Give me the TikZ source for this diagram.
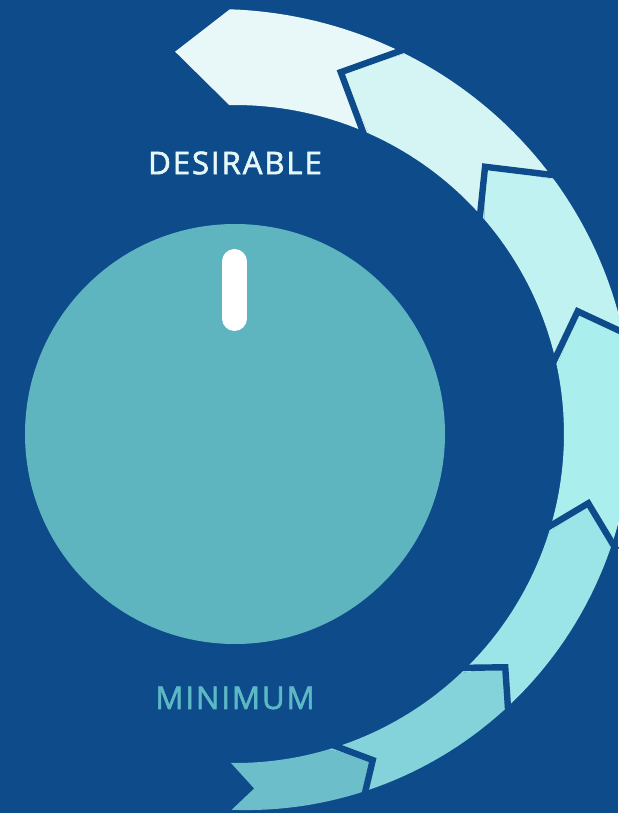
\documentclass[tikz,border=0pt]{standalone}
\usepackage{fontspec}
\setmainfont{Open Sans}
\newfontfamily\dialfont{Open Sans}[LetterSpace=6, FakeBold=2]
\definecolor{bgblue}{HTML}{0D4B8A}
\definecolor{knobteal}{HTML}{5EB5C0}
\definecolor{topwhite}{HTML}{E6F7F7}
\definecolor{lowteal}{HTML}{5DB8C6}
\definecolor{segG}{HTML}{6BBECA}
\definecolor{segF}{HTML}{84D3DB}
\definecolor{segE}{HTML}{9BE5E9}
\definecolor{segD}{HTML}{AAEEED}
\definecolor{segC}{HTML}{C0F2F1}
\definecolor{segB}{HTML}{D4F5F4}
\definecolor{segA}{HTML}{E8F8F8}
\begin{document}
\begin{tikzpicture}[x=0.5pt, y=0.5pt,
  declare function={rout(\t)=397+0.27*\t+0.0004*\t*\t;},
  gap/.style={draw=bgblue, line width=3.2pt, line join=miter},
  dial label/.style={font=\dialfont\fontsize{15.6}{16}\selectfont}]
\fill[bgblue] (-235,-379) rectangle (383,434);
\useasboundingbox (-235,-379) rectangle (383,434);
% arrow ring, bottom to top
\foreach \oA/\iA/\tA/\rA/\oB/\iB/\tB/\rB/\col in {
  -90.5/-90.7/-86.9/355/-70.5/-73.5/-67.1/354/segG,
  -70.5/-73.5/-67.1/354/-45.7/-46.6/-40.8/357/segF,
  -45.7/-46.6/-40.8/357/-16.9/-17.5/-11.1/360/segE,
  -16.9/-17.5/-11.1/360/14/11.7/19.7/364/segD,
  14/11.7/19.7/364/38.6/40.7/46.9/366/segC,
  38.6/40.7/46.9/366/65.9/66/73.7/377/segB,
  65.9/66/73.7/377/90.7/91/98.9/387/segA}{
  \fill[\col] (\oA:{rout(\oA)}) -- plot[domain=\oA:\oB, samples=20] (\x:{rout(\x)})
    -- (\tB:\rB) -- (\iB:329) -- plot[domain=\iB:\iA, samples=20] (\x:329)
    -- (\tA:\rA) -- cycle;
}
\foreach \o/\i/\t/\r in {-70.5/-73.5/-67.1/354, -45.7/-46.6/-40.8/357,
  -16.9/-17.5/-11.1/360, 14/11.7/19.7/364, 38.6/40.7/46.9/366, 65.9/66/73.7/377}
  \draw[gap] (\o:{rout(\o)+6}) -- (\t:\r) -- (\i:322);
% knob
\fill[knobteal] (0,0) circle (210);
\coordinate (pin top) at (-0.5,172.5);
\coordinate (pin bot) at (-0.5,115.5);
\draw[white, line width=12.5pt, line cap=round] (pin top) -- (pin bot);
\node[dial label, text=topwhite] (desirable) at (0,271) {DESIRABLE};
\node[dial label, text=lowteal] (minimum) at (0,-264) {MINIMUM};
\end{tikzpicture}
\end{document}
